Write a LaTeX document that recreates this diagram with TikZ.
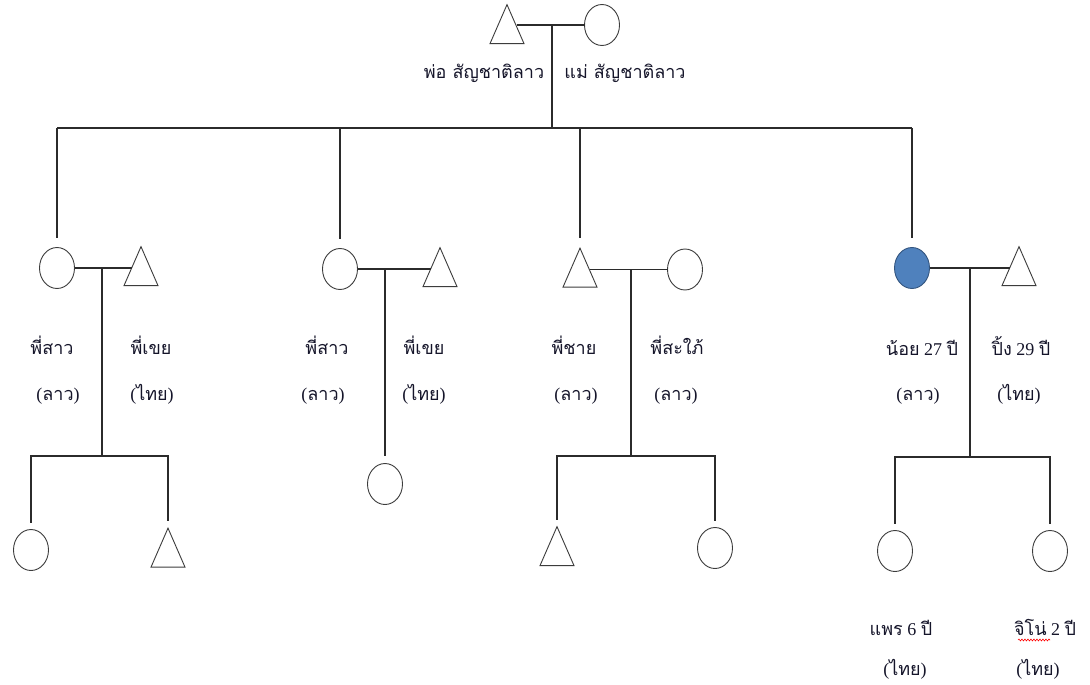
\documentclass[tikz,border=0pt]{standalone}
\usepackage{fontspec}
\setmainfont{Liberation Serif}
\newfontfamily\thai[Script=Thai]{Loma}
\usetikzlibrary{shapes.geometric,decorations.pathmorphing,calc}
\definecolor{linec}{HTML}{2B2B2B}
\definecolor{shapec}{HTML}{3C3C3C}
\definecolor{txtc}{HTML}{15152A}
\definecolor{fillblue}{HTML}{4F81BD}
\definecolor{edgeblue}{HTML}{33557F}
\begin{document}
\begin{tikzpicture}[x=1pt,y=-1pt,
  ln/.style={draw=linec, line width=1.2pt},
  circ/.style={draw=shapec, line width=0.9pt, shape=ellipse, minimum width=35pt, minimum height=41pt, inner sep=0pt, outer sep=0pt},
  bluecirc/.style={circ, fill=fillblue, draw=edgeblue},
  tri/.style={draw=shapec, line width=0.9pt, shape=isosceles triangle, shape border rotate=90, isosceles triangle stretches, minimum width=34pt, minimum height=39pt, inner sep=0pt, outer sep=0pt},
  lbl/.style={anchor=base, inner sep=0pt, text=txtc, font=\fontsize{18}{20}\selectfont},
]
\useasboundingbox[fill=white] (0,0) rectangle (1090,685);

% parents (triangle node y = box centre + 6.5)
\node[tri]  (F) at (507,32.5) {};
\node[circ] (M) at (602,25) {};
\draw[ln] ($(F.apex |- M)+(9.5,0)$) -- (M);
\coordinate (pm) at (552,25);
\coordinate (bus0) at (552,128);
\coordinate (d1) at (57,128);
\coordinate (d2) at (340,128);
\coordinate (d3) at (580,128);
\coordinate (d4) at (912,128);
\draw[ln] (pm) -- (bus0);
\draw[ln] (d1) -- (d4);
\node[lbl] (lF) at (484,78) {\thai พ่อ สัญชาติลาว};
\node[lbl] (lM) at (625,78) {\thai แม่ สัญชาติลาว};

% generation 2
\node[circ] (A1) at (57,268) {};
\node[tri]  (B1) at (141,274.5) {};
\node[circ] (A2) at (340,269) {};
\node[tri]  (B2) at (440,275.5) {};
\node[tri]  (A3) at (580,276) {};
\node[circ] (B3) at (685,269.5) {};
\node[bluecirc] (A4) at (912,268) {};
\node[tri]  (B4) at (1019,274.5) {};
\foreach \d/\n in {d1/A1,d2/A2,d3/A3,d4/A4}
  \draw[ln, shorten >=10pt] (\d) -- (\n);
\draw[ln] (A1) -- ($(A1 -| B1.apex)+(-9.5,0)$);
\draw[ln] (A2) -- ($(A2 -| B2.apex)+(-9.5,0)$);
\draw[ln] ($(B3 -| A3.apex)+(9.5,0)$) -- (B3);
\draw[ln] (A4) -- ($(A4 -| B4.apex)+(-9.5,0)$);

% labels gen 2
\node[lbl] (lA1) at (52,354) {\thai พี่สาว};
\node[lbl] (lA1b) at (58,400) {(\thai ลาว\rmfamily)};
\node[lbl] (lB1) at (151,354) {\thai พี่เขย};
\node[lbl] (lB1b) at (152,400) {(\thai ไทย\rmfamily)};
\node[lbl] (lA2) at (327,354) {\thai พี่สาว};
\node[lbl] (lA2b) at (323,400) {(\thai ลาว\rmfamily)};
\node[lbl] (lB2) at (424,354) {\thai พี่เขย};
\node[lbl] (lB2b) at (424,400) {(\thai ไทย\rmfamily)};
\node[lbl] (lA3) at (574,354) {\thai พี่ชาย};
\node[lbl] (lA3b) at (576,400) {(\thai ลาว\rmfamily)};
\node[lbl] (lB3) at (677,354) {\thai พี่สะใภ้};
\node[lbl] (lB3b) at (676,400) {(\thai ลาว\rmfamily)};
\node[lbl] (lA4) at (922,355) {{\thai น้อย} 27 {\thai ปี}};
\node[lbl] (lA4b) at (918,400) {(\thai ลาว\rmfamily)};
\node[lbl] (lB4) at (1021,355) {{\thai ปิ้ง} 29 {\thai ปี}};
\node[lbl] (lB4b) at (1019,400) {(\thai ไทย\rmfamily)};

% generation 3
\coordinate (m1) at (102,268);
\coordinate (k1) at (102,456);
\coordinate (m2) at (385,269);
\coordinate (m3) at (631,269.5);
\coordinate (k3) at (631,456);
\coordinate (m4) at (970,268);
\coordinate (k4) at (970,457);

\node[circ] (C1a) at (31,550) {};
\node[tri]  (C1b) at (168,556) {};
\node[circ] (C2)  at (385,484) {};
\node[tri]  (C3a) at (557,554.5) {};
\node[circ] (C3b) at (715,548) {};
\node[circ] (C4a) at (895,551) {};
\node[circ] (C4b) at (1050,551) {};

\draw[ln] (m1) -- (k1);
\draw[ln, shorten <=7pt, shorten >=7pt] (C1a) |- (k1) -| (C1b);
\draw[ln, shorten >=8pt] (m2) -- (C2);
\draw[ln] (m3) -- (k3);
\draw[ln, shorten <=7pt, shorten >=7pt] (C3a) |- (k3) -| (C3b);
\draw[ln] (m4) -- (k4);
\draw[ln, shorten <=7pt, shorten >=7pt] (C4a) |- (k4) -| (C4b);

\node[lbl] (lC4a) at (901,635) {{\thai แพร} 6 {\thai ปี}};
\node[lbl] (lC4ab) at (905,675) {(\thai ไทย\rmfamily)};
\node[lbl] (lC4b) at (1045,635) {{\thai จิโน่} 2 {\thai ปี}};
\node[lbl] (lC4bb) at (1038,675) {(\thai ไทย\rmfamily)};
\coordinate (sq1) at (1018,640);
\coordinate (sq2) at (1050,640);
\draw[red, line width=0.6pt, decorate, decoration={snake, amplitude=0.9pt, segment length=3pt}] (sq1) -- (sq2);
\end{tikzpicture}
\end{document}
